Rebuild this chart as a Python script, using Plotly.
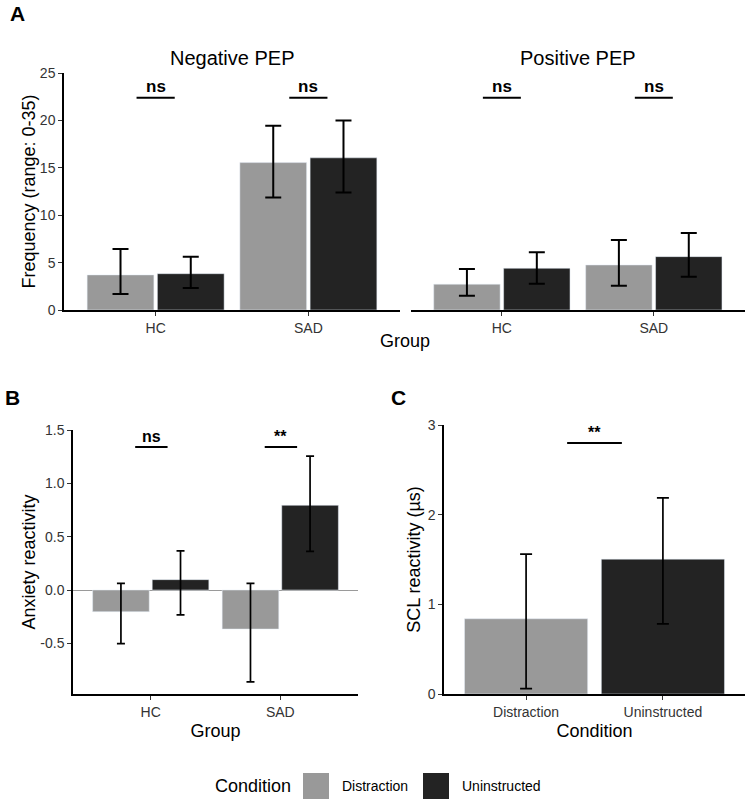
import plotly.graph_objects as go

# ---------------- data ----------------
groups = ["HC", "SAD"]
conditions = ["Distraction", "Uninstructed"]

# Panel A: Frequency (range: 0-35)
neg_distr = [3.7, 15.55]
neg_distr_lo = [1.7, 11.86]
neg_distr_hi = [6.44, 19.43]
neg_unin = [3.83, 16.05]
neg_unin_lo = [2.32, 12.39]
neg_unin_hi = [5.63, 19.99]

pos_distr = [2.72, 4.75]
pos_distr_lo = [1.51, 2.57]
pos_distr_hi = [4.33, 7.39]
pos_unin = [4.4, 5.63]
pos_unin_lo = [2.78, 3.52]
pos_unin_hi = [6.09, 8.12]

# Panel B: Anxiety reactivity
anx_distr = [-0.203, -0.366]
anx_distr_lo = [-0.503, -0.862]
anx_distr_hi = [0.063, 0.063]
anx_unin = [0.097, 0.794]
anx_unin_lo = [-0.234, 0.363]
anx_unin_hi = [0.366, 1.256]

# Panel C: SCL reactivity
scl = [0.839, 1.504]
scl_lo = [0.059, 0.783]
scl_hi = [1.56, 2.187]

# significance annotations
sig_A_neg = ["ns", "ns"]
sig_A_pos = ["ns", "ns"]
sig_A_y = 22.4
sig_B = ["ns", "**"]
sig_B_y = 1.34
sig_C = "**"
sig_C_y = 2.8

facet_titles = ["Negative PEP", "Positive PEP"]

GRAY = "#999999"
DARK = "#232323"
FONT = "Liberation Sans"

W, H = 749, 803


def px_x(p):
    return p / W


def px_y(p):
    return 1 - p / H


pos = list(range(len(groups)))


def err(vals, lo, hi):
    return dict(type="data", symmetric=False,
                array=[h - v for v, h in zip(vals, hi)],
                arrayminus=[v - l for v, l in zip(vals, lo)])


fig = go.Figure()


def add_pair(xa, ya, d, dlo, dhi, u, ulo, uhi, capw, thick):
    e1 = err(d, dlo, dhi)
    e1.update(color="black", thickness=thick, width=capw)
    e2 = err(u, ulo, uhi)
    e2.update(color="black", thickness=thick, width=capw)
    fig.add_trace(go.Bar(x=pos, y=d, name=conditions[0], marker_color=GRAY,
                         error_y=e1, xaxis=xa, yaxis=ya, showlegend=False))
    fig.add_trace(go.Bar(x=pos, y=u, name=conditions[1], marker_color=DARK,
                         error_y=e2, xaxis=xa, yaxis=ya, showlegend=False))


add_pair("x", "y", neg_distr, neg_distr_lo, neg_distr_hi,
         neg_unin, neg_unin_lo, neg_unin_hi, 8, 2)
add_pair("x2", "y2", pos_distr, pos_distr_lo, pos_distr_hi,
         pos_unin, pos_unin_lo, pos_unin_hi, 8, 2)
add_pair("x3", "y3", anx_distr, anx_distr_lo, anx_distr_hi,
         anx_unin, anx_unin_lo, anx_unin_hi, 4, 1.7)

ec = err(scl, scl_lo, scl_hi)
ec.update(color="black", thickness=1.7, width=6)
fig.add_trace(go.Bar(x=[0, 1], y=scl, width=0.9, marker_color=[GRAY, DARK],
                     error_y=ec, xaxis="x4", yaxis="y4", showlegend=False))

tickfont = dict(family=FONT, size=14, color="#333333")
titlefont = dict(family=FONT, size=18, color="black")

common_x = dict(showline=True, linecolor="black", linewidth=1.5,
                ticks="outside", ticklen=4, tickcolor="#333333",
                showgrid=False, zeroline=False, tickfont=tickfont,
                range=[-0.6, 1.6], fixedrange=True)
common_y = dict(showline=True, linecolor="black", linewidth=1.5,
                ticks="outside", ticklen=4, tickcolor="#333333",
                showgrid=False, zeroline=False, tickfont=tickfont,
                fixedrange=True)

yA = [px_y(310), px_y(73)]
yBC_B = [px_y(694), px_y(430)]
yBC_C = [px_y(694), px_y(425)]

fig.update_layout(
    width=W, height=H,
    margin=dict(l=0, r=0, t=0, b=0, autoexpand=False),
    paper_bgcolor="white", plot_bgcolor="white",
    barmode="group", bargap=0.08, bargroupgap=0.05,
    font=dict(family=FONT, color="black"),
    xaxis=dict(common_x, domain=[px_x(64), px_x(400)], anchor="y",
               tickvals=pos, ticktext=groups),
    yaxis=dict(common_y, domain=yA, anchor="x", range=[0, 25],
               tickvals=[0, 5, 10, 15, 20, 25],
               title=dict(text="Frequency (range: 0-35)", font=titlefont,
                          standoff=0)),
    xaxis2=dict(common_x, domain=[px_x(410.7), px_x(745)], anchor="y2",
                tickvals=pos, ticktext=groups),
    yaxis2=dict(domain=yA, anchor="x2", range=[0, 25], visible=False,
                fixedrange=True),
    xaxis3=dict(common_x, domain=[px_x(73), px_x(358)], anchor="y3",
                tickvals=pos, ticktext=groups,
                title=dict(text="Group", font=titlefont, standoff=6)),
    yaxis3=dict(common_y, domain=yBC_B, anchor="x3", range=[-0.975, 1.5],
                tickvals=[-0.5, 0, 0.5, 1.0, 1.5],
                ticktext=["-0.5", "0.0", "0.5", "1.0", "1.5"],
                zeroline=True, zerolinecolor="#9a9a9a", zerolinewidth=1,
                title=dict(text="Anxiety reactivity", font=titlefont,
                           standoff=0)),
    xaxis4=dict(common_x, domain=[px_x(444), px_x(745)], anchor="y4",
                tickvals=[0, 1], ticktext=conditions,
                title=dict(text="Condition", font=titlefont, standoff=6)),
    yaxis4=dict(common_y, domain=yBC_C, anchor="x4", range=[0, 3],
                tickvals=[0, 1, 2, 3],
                title=dict(text="SCL reactivity (µs)", font=titlefont,
                           standoff=2)),
)

shapes = []
annotations = []


def note(x, y, text, font, xanchor="center", yanchor="middle", **kw):
    d = dict(xref="paper", yref="paper", x=x, y=y, text=text,
             showarrow=False, xanchor=xanchor, yanchor=yanchor, font=font)
    d.update(kw)
    annotations.append(d)


# significance brackets
def bracket(xref, yref, x0, x1, y, label, size):
    shapes.append(dict(type="line", xref=xref, yref=yref, x0=x0, x1=x1,
                       y0=y, y1=y, line=dict(color="black", width=2)))
    annotations.append(dict(xref=xref, yref=yref, x=(x0 + x1) / 2, y=y,
                            text="<b>%s</b>" % label, showarrow=False,
                            yanchor="bottom", xanchor="center",
                            font=dict(family=FONT, size=size, color="black")))


for i, lab in enumerate(sig_A_neg):
    bracket("x", "y", pos[i] - 0.125, pos[i] + 0.125, sig_A_y, lab, 17)
for i, lab in enumerate(sig_A_pos):
    bracket("x2", "y2", pos[i] - 0.125, pos[i] + 0.125, sig_A_y, lab, 17)
for i, lab in enumerate(sig_B):
    bracket("x3", "y3", pos[i] - 0.12, pos[i] + 0.13, sig_B_y, lab, 16)
bracket("x4", "y4", 0.3, 0.7, sig_C_y, sig_C, 16)

# facet titles
facet_font = dict(family=FONT, size=20, color="black")
note(px_x(232), px_y(58), facet_titles[0], facet_font)
note(px_x(578), px_y(58), facet_titles[1], facet_font)
# panel A x title
note(px_x(404.5), px_y(341), "Group", titlefont)
# panel letters
letter_font = dict(family=FONT, size=21, color="black")
for lab, xx, yy in [("A", 17, 14), ("B", 12, 397), ("C", 399, 397)]:
    note(px_x(xx), px_y(yy), "<b>%s</b>" % lab, letter_font)

# legend (drawn manually)
note(px_x(293), px_y(786), "Condition", titlefont, xanchor="right")
for col, x0, lab, tx in [(GRAY, 303, conditions[0], 340),
                         (DARK, 423, conditions[1], 460)]:
    shapes.append(dict(type="rect", xref="paper", yref="paper",
                       x0=px_x(x0), x1=px_x(x0 + 26), y0=px_y(799), y1=px_y(773),
                       fillcolor=col, line=dict(width=0)))
    note(px_x(tx), px_y(786), lab, dict(family=FONT, size=14, color="black"),
         xanchor="left")

fig.update_layout(shapes=shapes, annotations=annotations)

fig.write_html(
    "out.html",
    config={"responsive": False, "displayModeBar": False},
    post_script="document.body.style.margin='0';"
                "document.body.style.padding='0';"
                "document.body.style.overflow='hidden';"
                "document.documentElement.style.overflow='hidden';",
)
